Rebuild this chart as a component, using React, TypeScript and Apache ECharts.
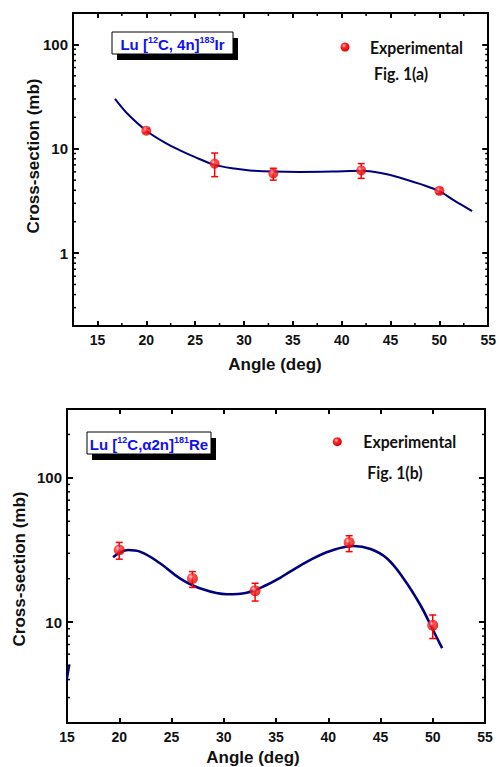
import React, { useEffect, useRef } from "react";
import * as echarts from "echarts";

// ---------- data ----------
const angles = [20, 27, 33, 42, 50];

const topValues = [14.9, 7.2, 5.8, 6.2, 3.95];
const topErrLow = [14.2, 5.4, 5.0, 5.2, 3.7];
const topErrHigh = [15.6, 9.1, 6.5, 7.2, 4.2];

const topFitAngles = [16.8, 18, 20, 22, 23.4, 25, 27, 29, 30.6, 33, 35.7, 39, 42.1, 44, 45.9, 48, 49.95, 51.5, 53.35];
const topFitValues = [30, 22, 14.9, 11.3, 9.7, 8.3, 7.0, 6.45, 6.2, 6.05, 6.0, 6.05, 6.15, 5.85, 5.31, 4.6, 3.95, 3.2, 2.53];

const bottomValues = [31.6, 20.1, 16.5, 35.7, 9.5];
const bottomErrLow = [27.3, 17.4, 14.0, 30.8, 7.7];
const bottomErrHigh = [35.7, 22.4, 18.6, 39.7, 11.2];

const bottomFitAngles = [19.41, 20.85, 21.97, 23.9, 25.8, 27.7, 30.3, 32.2, 34.1, 35.4, 36.35, 38.3, 40.2, 42.4, 44.05, 45.6, 47.2, 48.8, 50.1, 50.9];
const bottomFitValues = [28.2, 31.6, 30.8, 25.6, 20.1, 17.2, 15.6, 16.0, 18.1, 20.3, 22.4, 27.0, 31.1, 33.7, 32.1, 27.7, 20.1, 13.2, 8.6, 6.6];

const fragmentAngles = [15.25, 15.0];
const fragmentValues = [5.1, 4.0];

const xTickLabels = [15, 20, 25, 30, 35, 40, 45, 50, 55];
const topXMinor = [17.5, 22.5, 27.5, 32.5, 37.5, 42.5, 47.5, 52.5];
const topYMinor = [0.3, 0.4, 0.5, 0.6, 0.7, 0.8, 0.9, 2, 3, 4, 5, 6, 7, 8, 9, 20, 30, 40, 50, 60, 70, 80, 90];
const bottomYMinor = [3, 4, 5, 6, 7, 8, 9, 20, 30, 40, 50, 60, 70, 80, 90, 200];

const topRange = { xMin: 12.5, xMax: 55, yMin: 0.2, yMax: 200 };
const bottomRange = { xMin: 15, xMax: 55, yMin: 2, yMax: 300 };

// ---------- styles ----------
const AXIS_FONT = "Liberation Sans";
const BLACK = "#000";
const NAVY = "#00007f";
const RED = "#ff0000";
const TITLE_BLUE = "#1010f0";

const sphere = {
  type: "radial",
  x: 0.38,
  y: 0.35,
  r: 0.65,
  colorStops: [
    { offset: 0, color: "#ffd6d6" },
    { offset: 0.35, color: "#ff2a2a" },
    { offset: 1, color: "#e00000" },
  ],
};

function zip(a: number[], b: number[]) {
  return a.map((v, i) => [v, b[i]]);
}

function xAxes(gridIndex: number, r: any) {
  const base = {
    type: "value",
    gridIndex,
    min: r.xMin,
    max: r.xMax,
    splitLine: { show: false },
    axisLine: { show: true, onZero: false, lineStyle: { color: BLACK, width: 2 } },
  };
  return [
    {
      ...base,
      position: "bottom",
      axisTick: { show: true, inside: true, length: 5, lineStyle: { color: BLACK, width: 2 }, customValues: xTickLabels },
      axisLabel: {
        show: true,
        customValues: xTickLabels,
        margin: 7,
        color: "#111",
        fontFamily: AXIS_FONT,
        fontWeight: "bold",
        fontSize: 14,
      },
    },
    {
      ...base,
      position: "top",
      axisTick: { show: true, inside: true, length: 5, lineStyle: { color: BLACK, width: 2 }, customValues: xTickLabels },
      axisLabel: { show: false },
    },
  ];
}

function yAxes(gridIndex: number, r: any) {
  const base = {
    type: "log",
    logBase: 10,
    gridIndex,
    min: r.yMin,
    max: r.yMax,
    splitLine: { show: false },
    minorTick: { show: false },
    axisLine: { show: true, onZero: false, lineStyle: { color: BLACK, width: 2 } },
    axisTick: { show: true, inside: true, length: 6, lineStyle: { color: BLACK, width: 2 } },
  };
  return [
    {
      ...base,
      position: "left",
      axisLabel: {
        show: true,
        showMinLabel: false,
        showMaxLabel: false,
        margin: 5,
        color: "#111",
        fontFamily: AXIS_FONT,
        fontWeight: "bold",
        fontSize: 15,
      },
    },
    { ...base, position: "right", axisLabel: { show: false } },
  ];
}

function minorSeries(axisIdx: number, r: any, xMinor: number[], yMinor: number[]) {
  const data = [
    ...xMinor.map((v) => [v, r.yMin, 0]),
    ...yMinor.map((v) => [r.xMin, v, 1]),
  ];
  return {
    type: "custom",
    xAxisIndex: axisIdx,
    yAxisIndex: axisIdx,
    silent: true,
    clip: false,
    z: 10,
    data,
    renderItem: (params: any, api: any) => {
      const cs = params.coordSys;
      const dir = api.value(2);
      const p = api.coord([api.value(0), api.value(1)]);
      const st = { stroke: BLACK, lineWidth: 1.5 };
      const L = 3;
      if (dir === 0) {
        const x = p[0];
        const yb = cs.y + cs.height;
        const yt = cs.y;
        return {
          type: "group",
          children: [
            { type: "line", shape: { x1: x, y1: yb, x2: x, y2: yb - L }, style: st },
            { type: "line", shape: { x1: x, y1: yt, x2: x, y2: yt + L }, style: st },
          ],
        };
      }
      const y = p[1];
      const xl = cs.x;
      const xr = cs.x + cs.width;
      return {
        type: "group",
        children: [
          { type: "line", shape: { x1: xl, y1: y, x2: xl + L, y2: y }, style: st },
          { type: "line", shape: { x1: xr, y1: y, x2: xr - L, y2: y }, style: st },
        ],
      };
    },
  };
}

function errorSeries(axisIdx: number, lo: number[], hi: number[]) {
  return {
    type: "custom",
    xAxisIndex: axisIdx,
    yAxisIndex: axisIdx,
    silent: true,
    z: 3,
    encode: { x: 0, y: [1, 2] },
    data: angles.map((a, i) => [a, lo[i], hi[i]]),
    renderItem: (params: any, api: any) => {
      const x = api.value(0);
      const pl = api.coord([x, api.value(1)]);
      const ph = api.coord([x, api.value(2)]);
      const w = 3.5;
      const st = { stroke: RED, lineWidth: 1.5 };
      return {
        type: "group",
        children: [
          { type: "line", shape: { x1: pl[0], y1: pl[1], x2: ph[0], y2: ph[1] }, style: st },
          { type: "line", shape: { x1: pl[0] - w, y1: pl[1], x2: pl[0] + w, y2: pl[1] }, style: st },
          { type: "line", shape: { x1: ph[0] - w, y1: ph[1], x2: ph[0] + w, y2: ph[1] }, style: st },
        ],
      };
    },
  };
}

function titleBox(x: number, y: number, w: number, h: number, parts: string) {
  return [
    { type: "rect", shape: { x: x + 5, y: y + 6, width: w, height: h }, style: { fill: "#000" }, z: 20 },
    { type: "rect", shape: { x, y, width: w, height: h }, style: { fill: "#fff", stroke: "#000", lineWidth: 1 }, z: 21 },
    {
      type: "text",
      x: x + w / 2,
      y: y + h / 2 + 1,
      z: 22,
      style: {
        text: parts,
        align: "center",
        verticalAlign: "middle",
        fill: TITLE_BLUE,
        font: `bold 15px "${AXIS_FONT}"`,
        rich: {
          m: { font: `bold 15px "${AXIS_FONT}"`, fill: TITLE_BLUE, lineHeight: 18 },
          s: { font: `bold 9px "${AXIS_FONT}"`, fill: TITLE_BLUE, verticalAlign: "top", lineHeight: 18 },
        },
      },
    },
  ];
}

function legend(cx: number, cy: number, tx: number, fx: number, fy: number, fig: string) {
  return [
    { type: "circle", shape: { cx, cy, r: 4.5 }, style: { fill: sphere }, z: 20 },
    {
      type: "text",
      x: tx,
      y: cy,
      z: 20,
      scaleX: 0.93,
      style: { text: "Experimental", fill: "#111", font: `bold 17px Lato`, verticalAlign: "middle", align: "left" },
    },
    {
      type: "text",
      x: fx,
      y: fy,
      z: 20,
      scaleX: 0.93,
      style: { text: fig, fill: "#111", font: `bold 17px Lato`, verticalAlign: "middle", align: "left" },
    },
  ];
}

function axisName(text: string, x: number, y: number, rotate: boolean) {
  return {
    type: "text",
    x,
    y,
    rotation: rotate ? Math.PI / 2 : 0,
    z: 20,
    style: { text, fill: "#111", font: `bold 17px "${AXIS_FONT}"`, align: "center", verticalAlign: "middle" },
  };
}

export default function App() {
  const ref = useRef<HTMLDivElement>(null);
  useEffect(() => {
    if (!ref.current) return;
    const chart = echarts.init(ref.current, null, { renderer: "svg" });
    const option: any = {
      animation: false,
      backgroundColor: "#fff",
      grid: [
        { left: 73, top: 13, width: 417, height: 313 },
        { left: 67, top: 409, width: 418, height: 314 },
      ],
      xAxis: [...xAxes(0, topRange), ...xAxes(1, bottomRange)],
      yAxis: [...yAxes(0, topRange), ...yAxes(1, bottomRange)],
      series: [
        minorSeries(0, topRange, topXMinor, topYMinor),
        minorSeries(2, bottomRange, [], bottomYMinor),
        {
          name: "Fit (a)",
          type: "line",
          xAxisIndex: 0,
          yAxisIndex: 0,
          smooth: 0.3,
          showSymbol: false,
          symbol: "none",
          z: 2,
          lineStyle: { color: NAVY, width: 2 },
          data: zip(topFitAngles, topFitValues),
        },
        errorSeries(0, topErrLow, topErrHigh),
        {
          name: "Experimental",
          type: "scatter",
          xAxisIndex: 0,
          yAxisIndex: 0,
          symbolSize: 10,
          z: 4,
          itemStyle: { color: sphere },
          data: zip(angles, topValues),
        },
        {
          name: "Fit (b)",
          type: "line",
          xAxisIndex: 2,
          yAxisIndex: 2,
          smooth: 0.4,
          showSymbol: false,
          symbol: "none",
          z: 2,
          lineStyle: { color: NAVY, width: 2.6 },
          data: zip(bottomFitAngles, bottomFitValues),
        },
        {
          name: "Fragment",
          type: "line",
          xAxisIndex: 2,
          yAxisIndex: 2,
          showSymbol: false,
          symbol: "none",
          z: 2,
          lineStyle: { color: NAVY, width: 2 },
          data: zip(fragmentAngles, fragmentValues),
        },
        errorSeries(2, bottomErrLow, bottomErrHigh),
        {
          name: "Experimental",
          type: "scatter",
          xAxisIndex: 2,
          yAxisIndex: 2,
          symbolSize: 11,
          z: 4,
          itemStyle: { color: sphere },
          data: zip(angles, bottomValues),
        },
      ],
      graphic: [
        ...titleBox(112, 32, 121, 22, "{m|Lu [}{s|12}{m|C, 4n]}{s|183}{m|Ir}"),
        ...titleBox(87, 432, 124, 22, "{m|Lu [}{s|12}{m|C,α2n]}{s|181}{m|Re}"),
        ...legend(345, 47, 370, 374, 73, "Fig. 1(a)"),
        ...legend(337.3, 441.7, 363.3, 367.3, 472.5, "Fig. 1(b)"),
        axisName("Cross-section (mb)", 33, 156, true),
        axisName("Cross-section (mb)", 19, 569, true),
        axisName("Angle (deg)", 275, 364, false),
        axisName("Angle (deg)", 253, 757, false),
      ],
    };
    chart.setOption(option);
    return () => chart.dispose();
  }, []);
  return (
    <div
      ref={ref}
      style={{ position: "fixed", left: 0, top: 0, width: 499, height: 767, background: "#fff" }}
    />
  );
}
